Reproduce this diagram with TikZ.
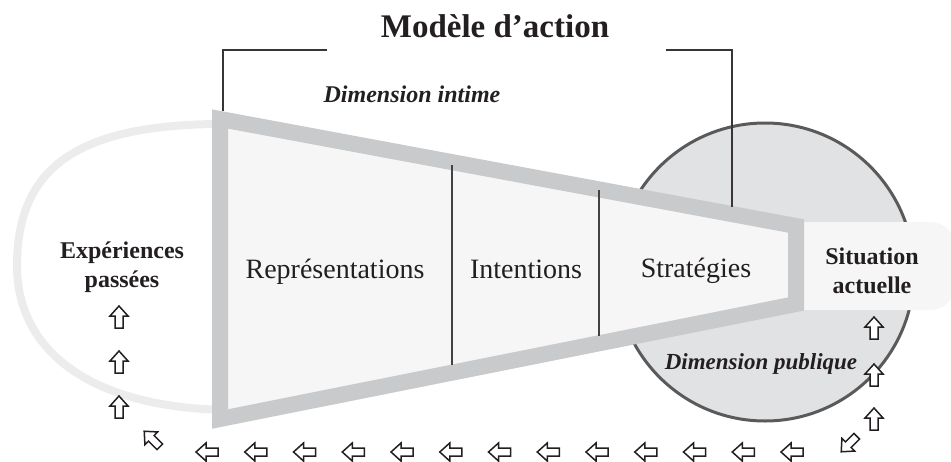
\documentclass[tikz,border=0pt]{standalone}
\usepackage{fontspec}
\setmainfont{Liberation Serif}
\usepackage{tikz}
\definecolor{encre}{HTML}{231F20}
\definecolor{bordgris}{HTML}{C9CACC}
\definecolor{fondclair}{HTML}{F6F6F6}
\definecolor{boucle}{HTML}{ECECEC}
\definecolor{disque}{HTML}{E1E2E4}
\definecolor{disquebord}{HTML}{5A5A5A}

\begin{document}
\begin{tikzpicture}[x=1pt, y=-1pt, text=encre,
    entonnoir/.style={line width=16pt, draw=bordgris, fill=fondclair, line join=miter},
    memoire/.style={line width=8pt, draw=boucle},
    monde/.style={line width=3pt, draw=disquebord, fill=disque},
    cloison/.style={line width=1.2pt, draw=encre!85},
    crochet/.style={line width=1.3pt, draw=encre!90},
    titre/.style={font=\fontsize{33}{36}\selectfont\bfseries, anchor=base},
    etape/.style={font=\fontsize{28}{30}\selectfont, anchor=base},
    pole/.style={font=\fontsize{24}{29}\selectfont\bfseries, align=center, anchor=base},
    dimension/.style={font=\fontsize{23}{26}\selectfont\bfseries\itshape, anchor=base},
    fleche/.pic={\draw[line width=1.5pt, draw=encre, fill=white, line join=miter]
        (0,-11) -- (9,-1) -- (4,-1) -- (4,11) -- (-4,11) -- (-4,-1) -- (-9,-1) -- cycle;}]
    \useasboundingbox (0,0) rectangle (951,461);

    % experiences passees
    \draw[memoire] (235,124) .. controls (80,122) and (17,165) .. (17,266)
        .. controls (17,350) and (90,410) .. (235,410);
    % situation actuelle
    \draw[monde] (765,272) circle (149);
    \fill[fondclair] (800,222) rectangle (900,310);
    \fill[fondclair, rounded corners=26] (850,222) rectangle (956,310);

    % modele d'action
    \coordinate (hg) at (220,119);
    \coordinate (hd) at (796,226);
    \coordinate (bd) at (796,304);
    \coordinate (bg) at (220,419);
    \draw[entonnoir] (hg) -- (hd) -- (bd) -- (bg) -- cycle;
    \draw[cloison] (452,165) -- (452,365);
    \draw[cloison] (599,190) -- (599,336);

    \node[titre] (titre) at (495,37) {Modèle d’action};
    \coordinate (pg) at (223,111);
    \coordinate (pd) at (732,207);
    \draw[crochet] ([xshift=-50pt,yshift=-13pt]titre.base west) -| (pg);
    \draw[crochet] ([xshift=53pt,yshift=-13pt]titre.base east) -| (pd);

    \node[dimension, font=\fontsize{24}{26}\selectfont\bfseries\itshape] (intime) at (412,102) {Dimension intime};
    \node[etape] (repr) at (335,278) {Représentations};
    \node[etape] (inten) at (526,278) {Intentions};
    \node[etape] (strat) at (696,277) {Stratégies};
    \node[pole] (passe) at (122,287) {Expériences\\passées};
    \node[pole] (situ) at (872,293) {Situation\\actuelle};
    \node[dimension] (publique) at (761,369) {Dimension publique};

    % boucle de retour
    \foreach \y in {317,362,407}
        \pic at (119,\y) {fleche};
    \pic[rotate=45] at (152,439) {fleche};
    \foreach \i in {0,...,12}
        \pic[rotate=90] at (207+48.75*\i,452) {fleche};
    \pic[rotate=135] at (849,444) {fleche};
    \foreach \y in {328,375,419}
        \pic at (874,\y) {fleche};
\end{tikzpicture}
\end{document}
